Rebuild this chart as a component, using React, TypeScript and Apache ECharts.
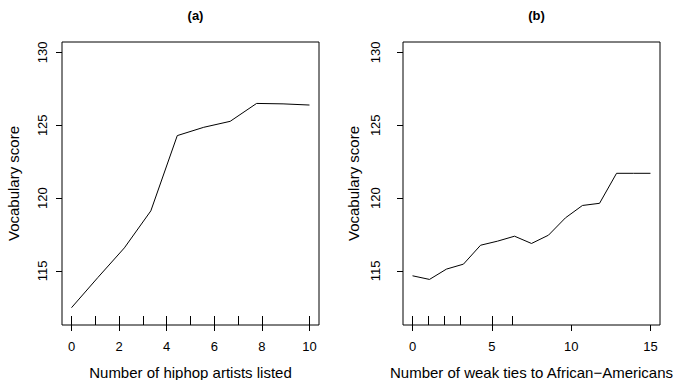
import React, { useEffect, useRef } from "react";
import * as echarts from "echarts";

const xA = [0, 1.111, 2.222, 3.333, 4.444, 5.556, 6.667, 7.778, 8.889, 10];
const yA = [112.47, 114.55, 116.58, 119.12, 124.29, 124.86, 125.27, 126.5, 126.47, 126.39];
const xB = [0, 1.07, 2.14, 3.21, 4.29, 5.36, 6.43, 7.5, 8.57, 9.64, 10.71, 11.79, 12.86, 13.93, 15];
const yB = [114.66, 114.41, 115.12, 115.46, 116.76, 117.04, 117.38, 116.88, 117.45, 118.64, 119.49, 119.64, 121.7, 121.7, 121.7];
const rugA = [0, 1, 2, 3, 4, 5, 6, 7, 8, 10];
const rugB = [0, 1, 2, 3, 5, 6.3];
const xTicksA = [0, 2, 4, 6, 8, 10];
const xTicksB = [0, 5, 10, 15];
const yTicks = [115, 120, 125, 130];
const titles = ["(a)", "(b)"];
const xNames = ["Number of hiphop artists listed", "Number of weak ties to African\u2212Americans"];
const yName = "Vocabulary score";

const FONT = "Liberation Sans, Arial, Helvetica, sans-serif";

export default function App() {
  const ref = useRef<HTMLDivElement>(null);
  useEffect(() => {
    if (!ref.current) return;
    const chart = echarts.init(ref.current, null, { renderer: "svg" });
    const grids = [
      { left: 62, top: 42, width: 257, height: 283 },
      { left: 403, top: 42, width: 257, height: 283 },
    ];
    const xr = [
      [-0.4, 10.4],
      [-0.6, 15.6],
    ];
    const xt = [xTicksA, xTicksB];
    const rugs = [rugA, rugB];
    const xAxis: any[] = [];
    const yAxis: any[] = [];
    grids.forEach((g, i) => {
      xAxis.push({
        type: "value",
        gridIndex: i,
        min: xr[i][0],
        max: xr[i][1],
        position: "bottom",
        axisLine: { show: false, onZero: false },
        splitLine: { show: false },
        axisTick: { show: true, inside: false, length: 6, customValues: xt[i], lineStyle: { color: "#000", width: 1 } },
        axisLabel: { show: true, customValues: xt[i], margin: 15, fontSize: 13, color: "#000", fontFamily: FONT },
        name: xNames[i],
        nameLocation: "middle",
        nameGap: 40,
        nameTextStyle: { fontSize: 15, color: "#000", fontFamily: FONT },
      });
      xAxis.push({
        type: "value",
        gridIndex: i,
        min: xr[i][0],
        max: xr[i][1],
        position: "bottom",
        axisLine: { show: false, onZero: false },
        splitLine: { show: false },
        axisTick: { show: true, inside: true, length: 9, customValues: rugs[i], lineStyle: { color: "#000", width: 1 } },
        axisLabel: { show: false },
      });
      yAxis.push({
        type: "value",
        gridIndex: i,
        min: 111.28,
        max: 130.72,
        axisLine: { show: false, onZero: false },
        splitLine: { show: false },
        axisTick: { show: true, inside: false, length: 6, customValues: yTicks, lineStyle: { color: "#000", width: 1 } },
        axisLabel: { show: true, customValues: yTicks, rotate: 90, margin: i === 0 ? 13 : 21, fontSize: 13, color: "#000", fontFamily: FONT },
        name: yName,
        nameLocation: "middle",
        nameGap: i === 0 ? 41 : 42,
        nameTextStyle: { fontSize: 15, color: "#000", fontFamily: FONT },
      });
    });
    chart.setOption({
      animation: false,
      backgroundColor: "#fff",
      title: titles.map((t, i) => ({
        text: t,
        left: grids[i].left + grids[i].width / 2,
        top: 4,
        textAlign: "center",
        textStyle: { fontSize: 13, fontWeight: "bold", color: "#000", fontFamily: FONT },
      })),
      grid: grids.map((g) => ({
        ...g,
        show: true,
        borderColor: "#000",
        borderWidth: 1,
        backgroundColor: "transparent",
        containLabel: false,
        outerBoundsMode: "none",
      })),
      xAxis,
      yAxis,
      series: [
        {
          type: "line",
          xAxisIndex: 0,
          yAxisIndex: 0,
          data: xA.map((x, k) => [x, yA[k]]),
          showSymbol: false,
          symbol: "none",
          lineStyle: { color: "#000", width: 1 },
        },
        {
          type: "line",
          xAxisIndex: 2,
          yAxisIndex: 1,
          data: xB.map((x, k) => [x, yB[k]]),
          showSymbol: false,
          symbol: "none",
          lineStyle: { color: "#000", width: 1 },
        },
      ],
    });
    return () => chart.dispose();
  }, []);
  return <div ref={ref} style={{ position: "absolute", left: 0, top: 0, width: 677, height: 380 }} />;
}
